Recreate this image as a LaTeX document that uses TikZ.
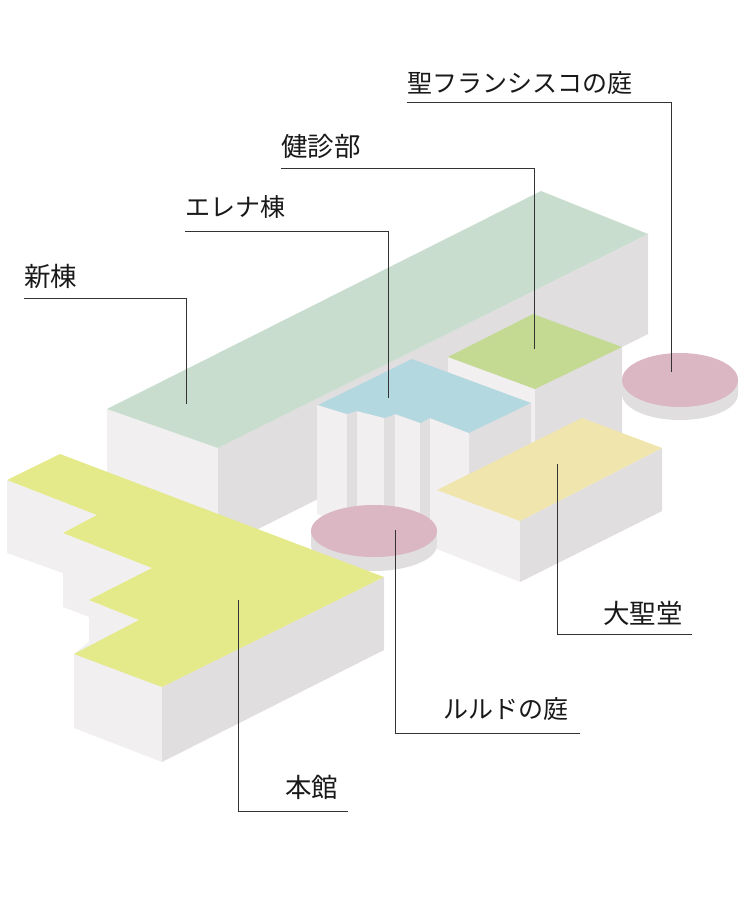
\documentclass[tikz,border=0pt]{standalone}
\usepackage{fontspec}
\newfontfamily\cjk{Noto Sans CJK JP}
\definecolor{wallL}{HTML}{F1EFF0}
\definecolor{wallD}{HTML}{E1DEE0}
\definecolor{topSage}{HTML}{C9DDCE}
\definecolor{topLime}{HTML}{C4DA92}
\definecolor{topBlue}{HTML}{B3D8E0}
\definecolor{topTan}{HTML}{F0E5AC}
\definecolor{topPink}{HTML}{DBB6C3}
\definecolor{topYel}{HTML}{E4E98A}
\tikzset{
  lightwall/.style={fill=wallL,draw=none},
  darkwall/.style={fill=wallD,draw=none},
  leader/.style={line width=0.85pt,draw=black!80},
  lbl/.style={font=\cjk\fontsize{25}{25}\selectfont,inner sep=0pt,anchor=base west,text=black!90},
  lblb/.style={font=\cjk\fontsize{26.5}{26}\selectfont,inner sep=0pt,anchor=base west,text=black!90}
}
\begin{document}
\begin{tikzpicture}[x=1pt,y=-1pt]
\useasboundingbox (0,0) rectangle (750,917);
% right court
\fill[wallD] (622,380) -- (622,394) arc[x radius=58,y radius=26,start angle=180,end angle=0] -- (738,380) -- cycle;
\fill[topPink] (680,380) ellipse[x radius=58,y radius=27];
% new wing
\fill[lightwall] (107,409) -- (218,448) -- (218,549) -- (107,510) -- cycle;
\fill[darkwall] (218,448) -- (648,234) -- (648,334) -- (218,549) -- cycle;
\fill[topSage] (107,409) -- (541,191) -- (648,234) -- (218,448) -- cycle;
% health block
\fill[lightwall] (448,357) -- (535,389) -- (535,445) -- (448,445) -- cycle;
\fill[darkwall] (535,389) -- (622,347) -- (622,440) -- (535,470) -- cycle;
\fill[topLime] (448,357) -- (533,314) -- (622,347) -- (535,389) -- cycle;
% Elena wing
\fill[darkwall] (469,433) -- (531,403) -- (531,480) -- (469,510) -- cycle;
\fill[lightwall] (317,405) -- (347,414) -- (347,525) -- (317,514) -- cycle;
\fill[darkwall] (347,414) -- (357,411) -- (357,528) -- (347,525) -- cycle;
\fill[lightwall] (357,411) -- (384,418) -- (384,530) -- (357,528) -- cycle;
\fill[darkwall] (384,418) -- (395,414) -- (395,530) -- (384,530) -- cycle;
\fill[lightwall] (395,414) -- (420,423) -- (420,530) -- (395,530) -- cycle;
\fill[darkwall] (420,423) -- (430,418) -- (430,530) -- (420,530) -- cycle;
\fill[lightwall] (430,418) -- (469,433) -- (469,530) -- (430,530) -- cycle;
\fill[topBlue] (318,405) -- (412,359) -- (531,403) -- (469,433) -- (430,418) -- (421,423) -- (395,414) -- (385,418) -- (357,411) -- (347,414) -- cycle;
% Lourdes court
\fill[wallD] (311,531) -- (311,545) arc[x radius=63,y radius=26,start angle=180,end angle=0] -- (437,531) -- cycle;
\fill[topPink] (374,531) ellipse[x radius=63,y radius=26];
% cathedral
\fill[lightwall] (437,490) -- (520,521) -- (520,582) -- (437,549) -- cycle;
\fill[darkwall] (520,521) -- (662,448) -- (662,511) -- (520,582) -- cycle;
\fill[topTan] (437,490) -- (582,418) -- (662,448) -- (520,521) -- cycle;
% main hall
\fill[lightwall] (7,480) -- (7,553) -- (63,573) -- (63,607) -- (89,617) -- (89,642) -- (74,654) -- (74,728) -- (162,762) -- (162,687) -- (139,620) -- (89,600) -- (152,568) -- (63,533) -- (97,515) -- cycle;
\fill[darkwall] (162,687) -- (384,577) -- (384,650) -- (162,762) -- cycle;
\fill[topYel] (60,454) -- (7,480) -- (97,515) -- (63,533) -- (152,568) -- (89,600) -- (139,620) -- (74,654) -- (162,687) -- (384,577) -- cycle;
% labels
\node[lbl] (seifuran) at (407,93) {聖フランシスコの庭};
\node[lblb] (kenshin) at (281,157) {健診部};
\node[lbl] (elena) at (185,217) {エレナ棟};
\node[lblb] (shinto) at (24,286) {新棟};
\node[lblb] (daiseido) at (603,623) {大聖堂};
\node[lbl] (lourdes) at (443,718) {ルルドの庭};
\node[lblb] (honkan) at (285,797) {本館};
% leaders
\coordinate (a0) at (407,102); \coordinate (a1) at (671,102); \coordinate (a2) at (671,372);
\coordinate (b0) at (281,168); \coordinate (b1) at (534,168); \coordinate (b2) at (534,349);
\coordinate (c0) at (185,231); \coordinate (c1) at (388,231); \coordinate (c2) at (388,398);
\coordinate (d0) at (24,298);  \coordinate (d1) at (186,298); \coordinate (d2) at (186,404);
\coordinate (e0) at (557,464); \coordinate (e1) at (557,634); \coordinate (e2) at (692,634);
\coordinate (f0) at (395,530); \coordinate (f1) at (395,733); \coordinate (f2) at (580,733);
\coordinate (g0) at (238,600); \coordinate (g1) at (238,811); \coordinate (g2) at (348,811);
\draw[leader] (a0) -- (a1) -- (a2);
\draw[leader] (b0) -- (b1) -- (b2);
\draw[leader] (c0) -- (c1) -- (c2);
\draw[leader] (d0) -- (d1) -- (d2);
\draw[leader] (e0) -- (e1) -- (e2);
\draw[leader] (f0) -- (f1) -- (f2);
\draw[leader] (g0) -- (g1) -- (g2);
\end{tikzpicture}
\end{document}
